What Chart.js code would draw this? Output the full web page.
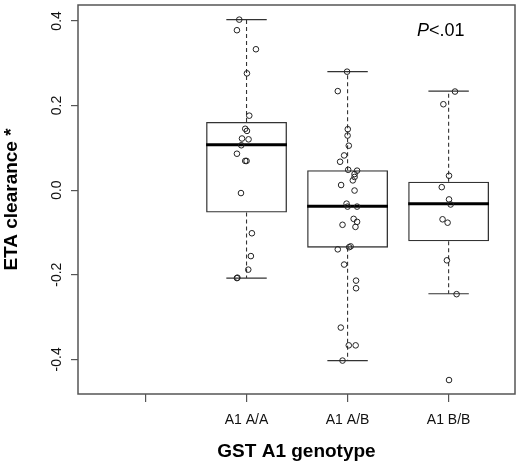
<!DOCTYPE html>
<html>
<head>
<meta charset="utf-8">
<script src="https://cdn.jsdelivr.net/npm/chart.js@4.4.1/dist/chart.umd.min.js"></script>
<style>
  html, body { margin: 0; padding: 0; background: #fff; }
  #wrap { width: 520px; height: 464px; }
</style>
</head>
<body>
<div id="wrap"><canvas id="box-chart"></canvas></div>
<script>
// x axis: slot 1 is an empty category, genotypes sit at 2..4
var positions = [1, 2, 3, 4];
var categories = ["", "A1 A/A", "A1 A/B", "A1 B/B"];
var yTicks = [-0.4, -0.2, 0.0, 0.2, 0.4];

// box statistics per genotype
var groupPos = [2, 3, 4];
var q1 = [-0.053, -0.136, -0.121];
var median = [0.107, -0.038, -0.032];
var q3 = [0.161, 0.047, 0.020];
var whiskerLow = [-0.208, -0.403, -0.245];
var whiskerHigh = [0.403, 0.280, 0.234];

var aaX = [1.928, 1.905, 2.093, 2.004, 2.027, 1.987, 2.004, 1.955, 2.020, 1.948, 1.905, 1.987, 2.000, 1.945, 2.053, 2.043, 2.017, 1.905, 1.910];
var aaY = [0.403, 0.378, 0.333, 0.276, 0.176, 0.145, 0.140, 0.122, 0.120, 0.106, 0.086, 0.069, 0.069, -0.007, -0.102, -0.156, -0.188, -0.208, -0.207];
var abX = [2.995, 2.903, 3.002, 3.000, 3.012, 2.966, 2.926, 3.006, 3.094, 3.069, 3.069, 3.052, 2.936, 3.069, 2.990, 3.000, 3.094, 3.060, 3.094, 2.950, 3.078, 2.903, 3.015, 3.030, 2.966, 3.084, 3.084, 2.933, 3.012, 3.080, 2.950];
var abY = [0.280, 0.234, 0.144, 0.129, 0.105, 0.082, 0.067, 0.048, 0.046, 0.038, 0.031, 0.023, 0.012, -0.001, -0.032, -0.039, -0.039, -0.068, -0.075, -0.082, -0.087, -0.140, -0.135, -0.133, -0.176, -0.214, -0.232, -0.325, -0.367, -0.367, -0.403];
var bbX = [4.063, 3.948, 4.004, 3.932, 4.004, 4.020, 3.940, 3.990, 3.983, 4.079, 4.004];
var bbY = [0.233, 0.203, 0.034, 0.007, -0.022, -0.034, -0.069, -0.077, -0.166, -0.246, -0.449];

var FONT = "'Liberation Sans', Arial, Helvetica, sans-serif";
Chart.defaults.font.family = FONT;

function pts(xs, ys) {
    return xs.map(function (x, i) { return { x: x, y: ys[i] }; });
}

function pointSet(xs, ys) {
    return {
        type: 'scatter',
        data: pts(xs, ys),
        order: 1,
        pointStyle: 'circle',
        pointRadius: 2.8,
        pointBorderWidth: 1,
        borderColor: '#222',
        backgroundColor: 'rgba(0,0,0,0)'
    };
}

// whiskers, medians, frame, rotated y labels and the p-value
var boxExtras = {
    id: 'boxExtras',
    beforeDatasetsDraw: function (chart) {
        var ctx = chart.ctx, xs = chart.scales.x, ys = chart.scales.y;
        ctx.save();
        ctx.strokeStyle = '#333';
        ctx.lineWidth = 1.1;
        groupPos.forEach(function (p, i) {
            var x = xs.getPixelForValue(p);
            ctx.setLineDash([4, 3]);
            ctx.beginPath();
            ctx.moveTo(x, ys.getPixelForValue(q3[i]));
            ctx.lineTo(x, ys.getPixelForValue(whiskerHigh[i]));
            ctx.moveTo(x, ys.getPixelForValue(q1[i]));
            ctx.lineTo(x, ys.getPixelForValue(whiskerLow[i]));
            ctx.stroke();
            ctx.setLineDash([]);
            ctx.beginPath();
            [whiskerHigh[i], whiskerLow[i]].forEach(function (v) {
                var y = ys.getPixelForValue(v);
                ctx.moveTo(xs.getPixelForValue(p - 0.2), y);
                ctx.lineTo(xs.getPixelForValue(p + 0.2), y);
            });
            ctx.stroke();
        });
        ctx.restore();
    },
    afterDatasetDraw: function (chart, args) {
        if (args.index !== 0) return;
        var ctx = chart.ctx, xs = chart.scales.x, ys = chart.scales.y;
        ctx.save();
        ctx.strokeStyle = '#000';
        ctx.lineWidth = 3;
        groupPos.forEach(function (p, i) {
            var y = ys.getPixelForValue(median[i]);
            ctx.beginPath();
            ctx.moveTo(xs.getPixelForValue(p - 0.4), y);
            ctx.lineTo(xs.getPixelForValue(p + 0.4), y);
            ctx.stroke();
        });
        ctx.restore();
    },
    afterDraw: function (chart) {
        var ctx = chart.ctx, a = chart.chartArea, ys = chart.scales.y;
        ctx.save();
        ctx.strokeStyle = '#555';
        ctx.lineWidth = 1.5;
        ctx.strokeRect(a.left, a.top, a.right - a.left, a.bottom - a.top);

        ctx.fillStyle = '#111';
        ctx.font = '14px ' + FONT;
        ctx.textAlign = 'center';
        ctx.textBaseline = 'middle';
        yTicks.forEach(function (v) {
            ctx.save();
            ctx.translate(57.5, ys.getPixelForValue(v));
            ctx.rotate(-Math.PI / 2);
            ctx.fillText(v.toFixed(1), 0, 0);
            ctx.restore();
        });

        ctx.textAlign = 'left';
        ctx.textBaseline = 'alphabetic';
        ctx.fillStyle = '#000';
        ctx.font = 'italic 18px ' + FONT;
        ctx.fillText('P', 417, 36);
        var w = ctx.measureText('P').width;
        ctx.font = '18px ' + FONT;
        ctx.fillText('<.01', 417 + w, 36);
        ctx.restore();
    }
};

var ctx = document.getElementById('box-chart');

var chart = new Chart(ctx, {
    type: 'scatter',
    data: {
        datasets: [
            {
                type: 'bar',
                data: groupPos.map(function (p, i) { return { x: p, y: [q1[i], q3[i]] }; }),
                order: 2,
                backgroundColor: 'rgba(255,255,255,0)',
                borderColor: '#333',
                borderWidth: 1.3,
                borderSkipped: false,
                categoryPercentage: 0.8,
                barPercentage: 1
            },
            pointSet(aaX, aaY),
            pointSet(abX, abY),
            pointSet(bbX, bbY)
        ]
    },
    options: {
        responsive: true,
        maintainAspectRatio: false,
        animation: false,
        layout: { padding: { top: 3, right: 3, left: 0, bottom: 0 } },
        plugins: {
            legend: { display: false },
            tooltip: { enabled: false }
        },
        scales: {
            x: {
                type: 'linear',
                min: 0.332,
                max: 4.657,
                offset: false,
                afterBuildTicks: function (s) {
                    s.ticks = positions.map(function (v) { return { value: v }; });
                },
                afterFit: function (s) { s.height = 70; },
                ticks: {
                    autoSkip: false,
                    maxRotation: 0,
                    minRotation: 0,
                    padding: 10,
                    color: '#111',
                    font: { size: 14 },
                    callback: function (v) { return categories[positions.indexOf(v)]; }
                },
                grid: { offset: false, drawOnChartArea: false, tickLength: 8, color: '#555', lineWidth: 1.2 },
                border: { display: false },
                title: {
                    display: true,
                    text: 'GST A1 genotype',
                    color: '#000',
                    font: { size: 19, weight: 'bold' },
                    padding: { top: 0, bottom: 1 }
                }
            },
            y: {
                type: 'linear',
                min: -0.482,
                max: 0.4376,
                afterBuildTicks: function (s) {
                    s.ticks = yTicks.map(function (v) { return { value: v }; });
                },
                afterFit: function (s) { s.width = 78; },
                ticks: { display: false },
                grid: { drawOnChartArea: false, tickLength: 7, color: '#555', lineWidth: 1.2 },
                border: { display: false },
                title: {
                    display: true,
                    text: 'ETA clearance *',
                    color: '#000',
                    font: { size: 19, weight: 'bold' },
                    padding: { top: 0, bottom: 0 }
                }
            }
        }
    },
    plugins: [boxExtras]
});
</script>
</body>
</html>
